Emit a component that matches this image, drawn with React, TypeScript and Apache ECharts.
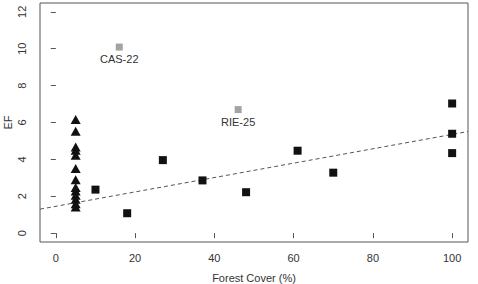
import React, { useEffect, useRef } from "react";
import * as echarts from "echarts";

// Axis ticks
const X_TICKS = [0, 20, 40, 60, 80, 100];
const Y_TICKS = [0, 2, 4, 6, 8, 10, 12];

// Sites without forest cover measurements, stacked at 5 %
const TRIANGLE_COVER = 5;
const TRIANGLE_EF = [6.16, 5.53, 4.67, 4.49, 4.22, 3.5, 2.9, 2.47, 2.29, 2.05, 1.84, 1.6, 1.42];

// Sites with measured forest cover
const SQUARE_COVER = [10, 18, 27, 37, 48, 61, 70, 100, 100, 100];
const SQUARE_EF = [2.36, 1.08, 3.96, 2.86, 2.22, 4.47, 3.28, 7.03, 5.39, 4.34];

// Outlying sites, excluded from the fit
const OUTLIER_NAMES = ["CAS-22", "RIE-25"];
const OUTLIER_COVER = [16, 46];
const OUTLIER_EF = [10.09, 6.7];

// Linear fit, at the two ends of the plot region
const FIT_COVER = [-4, 104];
const FIT_EF = [1.3, 5.51];

const FONT = "'Liberation Sans', Arial, Helvetica, sans-serif";
const TEXT = "#333333";
const LINE = "#555555";

export default function App() {
  const ref = useRef<HTMLDivElement>(null);

  useEffect(() => {
    if (!ref.current) return;
    const chart = echarts.init(ref.current, null, { renderer: "svg" });

    const triangles = TRIANGLE_EF.map((ef) => [TRIANGLE_COVER, ef]);
    const squares = SQUARE_COVER.map((c, i) => [c, SQUARE_EF[i]]);
    const outliers = OUTLIER_COVER.map((c, i) => ({
      name: OUTLIER_NAMES[i],
      value: [c, OUTLIER_EF[i]],
    }));
    const fit = FIT_COVER.map((c, i) => [c, FIT_EF[i]]);

    chart.setOption({
      animation: false,
      backgroundColor: "#fff",
      textStyle: { fontFamily: FONT },
      grid: {
        left: 40,
        right: 10,
        top: 3,
        bottom: 42,
        show: true,
        borderColor: LINE,
        borderWidth: 1,
        containLabel: false,
        outerBoundsMode: "none",
      },
      xAxis: {
        type: "value",
        min: -4,
        max: 104,
        name: "Forest Cover (%)",
        nameLocation: "middle",
        nameGap: 30,
        nameMoveOverlap: false,
        nameTextStyle: { color: TEXT, fontSize: 11, fontFamily: FONT },
        axisLine: { show: false },
        splitLine: { show: false },
        axisTick: {
          show: true,
          inside: false,
          length: 5,
          lineStyle: { color: LINE },
          customValues: X_TICKS,
        },
        axisLabel: {
          color: TEXT,
          fontSize: 11,
          fontFamily: FONT,
          margin: 10,
          customValues: X_TICKS,
        },
      },
      yAxis: {
        type: "value",
        min: -0.48,
        max: 12.48,
        name: "EF",
        nameLocation: "middle",
        nameGap: 27,
        nameRotate: 90,
        nameMoveOverlap: false,
        nameTextStyle: { color: TEXT, fontSize: 11, fontFamily: FONT },
        axisLine: { show: false },
        splitLine: { show: false },
        axisTick: {
          show: true,
          inside: false,
          length: 5,
          lineStyle: { color: LINE },
          customValues: Y_TICKS,
        },
        axisLabel: {
          color: TEXT,
          fontSize: 11,
          fontFamily: FONT,
          rotate: 90,
          margin: 13,
          customValues: Y_TICKS,
        },
      },
      series: [
        {
          type: "line",
          data: fit,
          showSymbol: false,
          symbol: "none",
          lineStyle: { color: LINE, width: 1, type: [4, 3] },
          silent: true,
          z: 1,
        },
        {
          type: "scatter",
          data: triangles,
          symbol: "triangle",
          symbolSize: [10, 9],
          itemStyle: { color: "#111111", opacity: 1 },
          z: 3,
        },
        {
          type: "scatter",
          data: squares,
          symbol: "rect",
          symbolSize: 8,
          itemStyle: { color: "#111111", opacity: 1 },
          z: 3,
        },
        {
          type: "scatter",
          data: outliers,
          symbol: "rect",
          symbolSize: 7,
          itemStyle: { color: "#a3a3a3", opacity: 1 },
          label: {
            show: true,
            position: "bottom",
            distance: 3,
            formatter: "{b}",
            color: TEXT,
            fontSize: 11,
            fontFamily: FONT,
          },
          z: 3,
        },
      ],
    });

    return () => chart.dispose();
  }, []);

  return (
    <div
      ref={ref}
      style={{ position: "fixed", left: 0, top: 0, width: 478, height: 284 }}
    />
  );
}
